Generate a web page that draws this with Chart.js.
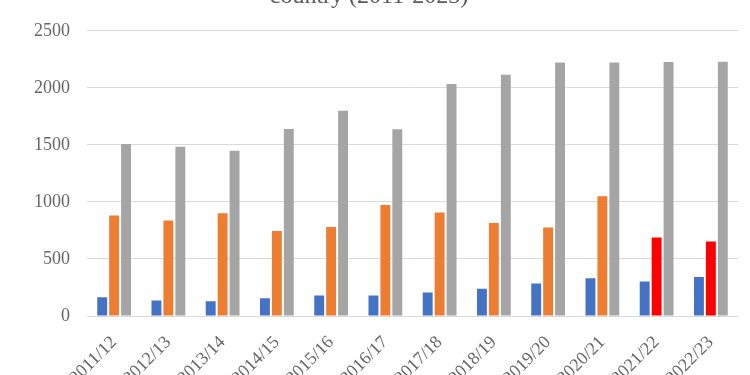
<!DOCTYPE html>
<html>
<head>
<meta charset="utf-8">
<script src="https://cdn.jsdelivr.net/npm/chart.js@4.4.1/dist/chart.umd.min.js"></script>
<style>
    html, body { margin: 0; padding: 0; background: #fff; }
    #wrap { width: 750px; height: 375px; overflow: hidden; position: relative; }
    #holder { position: absolute; left: 0; top: -25px; width: 750px; height: 400px; }
</style>
</head>
<body>
<div id="wrap">
    <div id="holder"><canvas id="grafico"></canvas></div>
</div>
<script>
//*******DADOS*******
var anos = ["2011/12", "2012/13", "2013/14", "2014/15", "2015/16", "2016/17",
            "2017/18", "2018/19", "2019/20", "2020/21", "2021/22", "2022/23"];

var serieAzul    = [165, 136, 130, 156, 180, 180, 206, 238, 285, 330, 303, 341];
var serieLaranja = [882, 838, 900, 744, 780, 973, 908, 815, 776, 1049, 688, 653];
var serieCinza   = [1507, 1483, 1448, 1640, 1800, 1638, 2033, 2115, 2223, 2222, 2226, 2228];

var ticksY = [0, 500, 1000, 1500, 2000, 2500];

//*******CORES*******
var corAzul = "#4472C4";
var corLaranja = "#ED7D31";
var corVermelho = "#FF0000";
var corCinza = "#A5A5A5";
var corTexto = "#666666";

// os dois ultimos anos aparecem em vermelho
var coresLaranja = anos.map(function (ano, i) {
    return i >= anos.length - 2 ? corVermelho : corLaranja;
});

var fonteSerif = "'Liberation Serif', 'Times New Roman', serif";

var options = {
    type: "bar",
    data: {
        labels: anos,
        datasets: [
            { data: serieAzul, backgroundColor: corAzul },
            { data: serieLaranja, backgroundColor: coresLaranja },
            { data: serieCinza, backgroundColor: corCinza }
        ]
    },
    options: {
        responsive: true,
        maintainAspectRatio: false,
        animation: false,
        categoryPercentage: 0.66,
        barPercentage: 0.83,
        layout: {
            padding: { left: 0, right: 12, top: 0, bottom: 0 }
        },
        plugins: {
            legend: { display: false },
            tooltip: { enabled: false },
            title: {
                display: true,
                text: "country (2011-2023)",
                color: "#595959",
                font: { family: fonteSerif, size: 24, weight: "normal" },
                padding: { top: 7, bottom: 20 }
            }
        },
        scales: {
            x: {
                grid: { display: false },
                border: { display: false },
                ticks: {
                    color: corTexto,
                    font: { family: fonteSerif, size: 18 },
                    maxRotation: 45,
                    minRotation: 45,
                    padding: 8
                },
                afterFit: function (scale) { scale.height = 59; }
            },
            y: {
                min: 0,
                max: 2500,
                afterBuildTicks: function (scale) {
                    scale.ticks = ticksY.map(function (v) { return { value: v }; });
                },
                grid: { color: "#D9D9D9", lineWidth: 1, drawTicks: false },
                border: { display: false },
                ticks: {
                    color: corTexto,
                    font: { family: fonteSerif, size: 18 },
                    padding: 17,
                    callback: function (valor) { return String(valor); }
                },
                afterFit: function (scale) { scale.width = 87; }
            }
        }
    }
};

var _grafico = new Chart(document.getElementById("grafico"), options);
</script>
</body>
</html>
